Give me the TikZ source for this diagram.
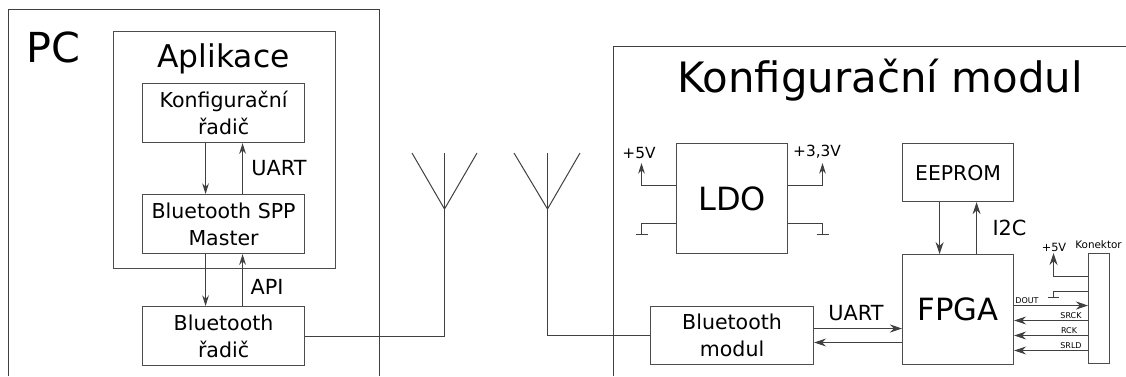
\documentclass[tikz,border=0pt]{standalone}
\usepackage{fontspec}
\setmainfont{DejaVu Sans}
\usetikzlibrary{arrows.meta}
\tikzset{
  blok/.style={draw=black!70, line width=0.85pt, inner sep=0pt, align=center, anchor=north west},
  spoj/.style={draw=black!75, line width=0.75pt},
  sipka/.style={spoj, -{Stealth[length=8pt,width=5pt]}},
  sipkav/.style={spoj, -{Stealth[length=9pt,width=6pt]}},
  velky/.style={font=\fontsize{15.4}{20.2}\selectfont},
  popis/.style={inner sep=0pt, font=\fontsize{15.6}{18}\selectfont},
  maly/.style={inner sep=0pt, font=\fontsize{11.5}{14}\selectfont},
  drobny/.style={inner sep=0pt, font=\fontsize{6}{7}\selectfont}
}
\begin{document}
\begin{tikzpicture}[x=0.75pt,y=-0.75pt]
    \useasboundingbox (0,0) rectangle (1126,376);
    % PC
    \coordinate (pcbl) at (8.5,376);
    \coordinate (pctl) at (8.5,9.5);
    \coordinate (pctr) at (379.5,9.5);
    \coordinate (pcbr) at (379.5,376);
    \draw[spoj] (pcbl) -- (pctl) -- (pctr) -- (pcbr);
    \node[inner sep=0pt, font=\fontsize{31}{36}\selectfont] (pc) at (53,47) {PC};
    \node[blok, minimum width=166.5pt, minimum height=177.75pt] (apl) at (113,31) {};
    \node[inner sep=0pt, font=\fontsize{23.5}{28}\selectfont] (apltext) at (223.5,59) {Aplikace};
    \node[blok, velky, minimum width=121.5pt, minimum height=44.25pt] (radic) at (142,83) {Konfigurační\\řadič};
    \node[blok, velky, minimum width=121.5pt, minimum height=44.25pt] (spp) at (142,194) {Bluetooth SPP\\Master};
    \node[blok, velky, minimum width=121.5pt, minimum height=44.25pt] (btradic) at (142,306) {Bluetooth\\řadič};
    \draw[sipka] ([xshift=-13.5pt]radic.south) -- ([xshift=-13.5pt]spp.north);
    \draw[sipka] ([xshift=14.25pt]spp.north) -- ([xshift=14.25pt]radic.south);
    \draw[sipka] ([xshift=-13.5pt]spp.south) -- ([xshift=-13.5pt]btradic.north);
    \draw[sipka] ([xshift=14.25pt]btradic.north) -- ([xshift=14.25pt]spp.south);
    \node[popis] (uart1) at (279,168) {UART};
    \node[popis] (api) at (267,287) {API};
    % antennas
    \coordinate (ant1) at (444.5,209);
    \coordinate (ant1l) at (412,153);
    \coordinate (ant1t) at (444.5,153);
    \coordinate (ant1r) at (477,153);
    \coordinate (ant2) at (547.5,209);
    \coordinate (ant2l) at (514,153);
    \coordinate (ant2t) at (547.5,153);
    \coordinate (ant2r) at (580,153);
    \draw[spoj] (ant1l) -- (ant1) -- (ant1r);
    \draw[spoj] (ant2l) -- (ant2) -- (ant2r);
    \draw[spoj] (btradic.east) -| (ant1t);
    % module
    \coordinate (mbl) at (613.5,376);
    \coordinate (mtl) at (613.5,46.5);
    \coordinate (mtr) at (1126,46.5);
    \draw[spoj] (mbl) -- (mtl) -- (mtr);
    \node[inner sep=0pt, font=\fontsize{31.4}{36}\selectfont] (modul) at (880,80) {Konfigurační modul};
    \node[blok, font=\fontsize{24}{28}\selectfont, minimum width=83.25pt, minimum height=82.5pt] (ldo) at (676,143) {LDO};
    \node[blok, font=\fontsize{15.3}{18}\selectfont, minimum width=83.25pt, minimum height=43.5pt] (eeprom) at (902,143) {EEPROM};
    \node[blok, font=\fontsize{23}{26}\selectfont, minimum width=83.25pt, minimum height=82.5pt] (fpga) at (902,254) {FPGA};
    \node[blok, velky, minimum width=122.25pt, minimum height=43.5pt] (btmodul) at (650,306) {Bluetooth\\modul};
    \node[blok, minimum width=15.75pt, minimum height=82.5pt] (kon) at (1088,253) {};
    \node[inner sep=0pt, font=\fontsize{7.8}{10}\selectfont] (kontext) at (1098.5,245) {Konektor};
    \draw[spoj] (btmodul.west) -| (ant2t);
    % LDO
    \coordinate (p5a) at (641.5,163);
    \coordinate (p33a) at (822.5,163);
    \coordinate (g1) at (641.5,234.5);
    \coordinate (g2) at (822.5,234.5);
    \draw[sipka] (ldo.west |- 0,185.5) -| (p5a);
    \draw[sipka] (ldo.east |- 0,185.5) -| (p33a);
    \draw[spoj] (ldo.west |- 0,223.5) -| (g1);
    \draw[spoj] (ldo.east |- 0,223.5) -| (g2);
    \draw[spoj] ([xshift=-4.5pt]g1) -- ([xshift=4.5pt]g1);
    \draw[spoj] ([xshift=-4.5pt]g2) -- ([xshift=4.5pt]g2);
    \node[maly] (p5) at (639,153) {+5V};
    \node[maly] (p33) at (817,152) {+3,3V};
    % EEPROM and FPGA
    \draw[sipkav] ([xshift=-13.875pt]eeprom.south) -- ([xshift=-13.875pt]fpga.north);
    \draw[sipkav] ([xshift=13.875pt]fpga.north) -- ([xshift=13.875pt]eeprom.south);
    \node[popis] (i2c) at (1009.5,228) {I2C};
    % FPGA and Bluetooth
    \draw[sipkav] (btmodul.east |- 0,328.5) -- (fpga.west |- 0,328.5);
    \draw[sipkav] (fpga.west |- 0,342.5) -- (btmodul.east |- 0,342.5);
    \node[popis] (uart2) at (856,313) {UART};
    % connector
    \coordinate (p5b) at (1053.5,253);
    \coordinate (g3) at (1053.5,297.5);
    \draw[sipkav] (kon.west |- 0,276.5) -| (p5b);
    \draw[spoj] (kon.west |- 0,291.5) -| (g3);
    \draw[spoj] ([xshift=-4pt]g3) -- ([xshift=4pt]g3);
    \node[inner sep=0pt, font=\fontsize{8.5}{10}\selectfont] (p5c) at (1054,247) {+5V};
    \draw[sipkav] (fpga.east |- 0,305.5) -- (kon.west |- 0,305.5);
    \draw[sipkav] (kon.west |- 0,320.5) -- (fpga.east |- 0,320.5);
    \draw[sipkav] (kon.west |- 0,335.5) -- (fpga.east |- 0,335.5);
    \draw[sipkav] (kon.west |- 0,350.5) -- (fpga.east |- 0,350.5);
    \node[drobny] (dout) at (1027,301) {DOUT};
    \node[drobny] (srck) at (1071,316) {SRCK};
    \node[drobny] (rck) at (1069,331) {RCK};
    \node[drobny] (srld) at (1071,346) {SRLD};
\end{tikzpicture}
\end{document}
